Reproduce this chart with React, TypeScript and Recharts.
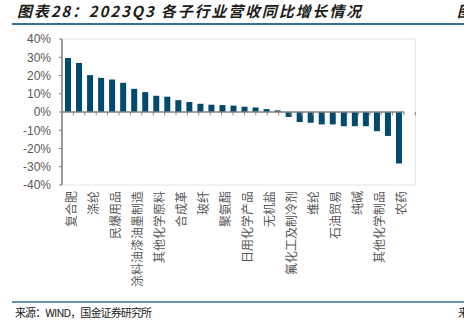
import {
  BarChart,
  Bar,
  XAxis,
  YAxis,
  ReferenceLine,
  ReferenceArea
} from 'recharts'

// categories in chart order (odd positions carry the visible labels)
const categories = [
  '复合肥', '钾肥', '涤纶', '氨纶', '民爆用品', '改性塑料', '涂料油漆油墨制造', '有机硅',
  '其他化学原料', '膜材料', '合成革', '食品及饲料添加剂', '玻纤', '锦纶', '聚氨酯', '粘胶',
  '日用化学产品', '橡胶助剂', '无机盐', '炭黑', '氟化工及制冷剂', '氯碱', '维纶', '磷肥及磷化工',
  '石油贸易', '钛白粉', '纯碱', '氮肥', '其他化学制品', '其他橡胶制品', '农药'
]

// 2023Q3 revenue yoy, %
const growth = [
  29.6, 26.9, 20.2, 18.7, 17.8, 16.0, 12.7, 10.9,
  8.9, 8.4, 6.5, 5.5, 4.5, 4.0, 3.8, 3.5,
  2.9, 2.5, 1.6, 0.9, -2.7, -5.5, -5.9, -6.8,
  -6.8, -7.8, -7.8, -7.8, -10.5, -13.1, -28.2
]

const yTicks = [-40, -30, -20, -10, 0, 10, 20, 30, 40]

const chartData = categories.map((name, i) => ({ name, value: growth[i] }))
const boundaries = categories.map((_, i) => i + 1)

const BAR_COLOR = '#00496f'
const AXIS_GRAY = '#808080'
const TEXT_GRAY = '#595959'
const CJK = '"Noto Sans CJK SC", "Noto Sans", sans-serif'

const CategoryTick = ({ x, y, payload }: any) => {
  const ax = x + 8
  return (
    <text
      x={ax}
      y={y}
      transform={`rotate(-90 ${ax} ${y})`}
      textAnchor="end"
      fontSize={12}
      fontFamily={CJK}
      fill={TEXT_GRAY}
    >
      {payload.value}
    </text>
  )
}

export default function App() {
  return (
    <div
      style={{
        position: 'fixed',
        left: 0,
        top: 0,
        width: 464,
        height: 324,
        overflow: 'hidden',
        background: '#fff'
      }}
    >
      {/* Header / footer */}
      <svg width={464} height={324} style={{ position: 'absolute', left: 0, top: 0 }}>
        <text
          x={17}
          y={17}
          fontSize={15}
          fontStyle="italic"
          fontWeight="bold"
          fontFamily={CJK}
          fill="#1c1c1c"
          textLength={344}
          lengthAdjust="spacing"
        >
          图表28：2023Q3 各子行业营收同比增长情况
        </text>
        <text x={457} y={17} fontSize={15} fontStyle="italic" fontWeight="bold" fontFamily={CJK} fill="#1c1c1c">
          图
        </text>
        <line x1={12} y1={24} x2={464} y2={24} stroke="#3a7096" strokeWidth={2} />
        <line x1={12} y1={302} x2={464} y2={302} stroke="#3a7096" strokeWidth={1.5} />
        <text
          x={15}
          y={317}
          fontSize={11}
          fontFamily={CJK}
          fill="#222"
          textLength={137}
          lengthAdjust="spacing"
        >
          来源：WIND，国金证券研究所
        </text>
        <text x={458} y={317} fontSize={11} fontFamily={CJK} fill="#222">
          来
        </text>
      </svg>

      <div style={{ position: 'absolute', left: 0, top: 0 }}>
        <BarChart
          width={464}
          height={324}
          data={chartData}
          margin={{ top: 39, right: 60, left: 0, bottom: 0 }}
          barSize={6}
        >
          <XAxis
            dataKey="name"
            interval={1}
            height={139}
            axisLine={false}
            tickLine={false}
            tickSize={0}
            tickMargin={6}
            tick={<CategoryTick />}
          />
          <XAxis
            xAxisId="num"
            type="number"
            domain={[0, categories.length]}
            allowDataOverflow
            hide
            height={0}
          />
          <YAxis
            domain={[-40, 40]}
            ticks={yTicks}
            width={62}
            interval={0}
            tickFormatter={(v: number) => `${v}%`}
            tick={{ fontSize: 12, fill: TEXT_GRAY, fontFamily: '"Liberation Sans", Arial, sans-serif' }}
            tickSize={3}
            tickMargin={8}
            axisLine={{ stroke: AXIS_GRAY, strokeWidth: 1.5 }}
            tickLine={{ stroke: AXIS_GRAY }}
          />
          <ReferenceArea
            xAxisId="num"
            x1={0}
            x2={categories.length}
            y1={-40}
            y2={40}
            fill="none"
            stroke="#e6e6e6"
            ifOverflow="visible"
          />
          <Bar dataKey="value" fill={BAR_COLOR} isAnimationActive={false} />
          <ReferenceLine y={0} stroke={AXIS_GRAY} strokeWidth={1.5} />
          {boundaries.map(b => (
            <ReferenceLine
              key={`tick-${b}`}
              xAxisId="num"
              segment={[{ x: b, y: 0 }, { x: b, y: -1.8 }]}
              stroke={AXIS_GRAY}
              strokeWidth={1}
              ifOverflow="visible"
            />
          ))}
        </BarChart>
      </div>
    </div>
  )
}
